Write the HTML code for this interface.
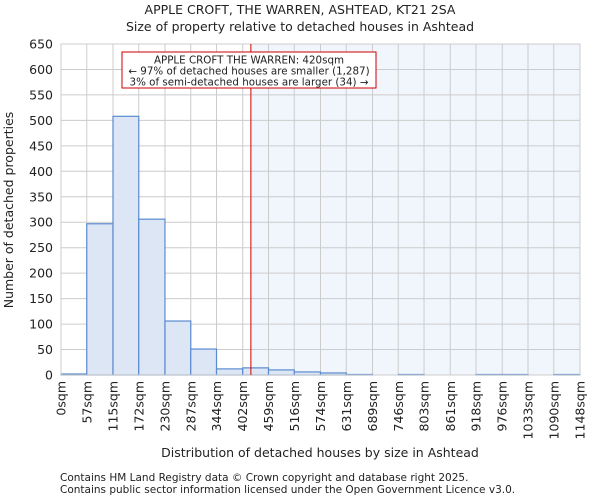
<!DOCTYPE html>
<html><head><meta charset="utf-8"><style>
body{margin:0;background:#fff;font-family:"DejaVu Sans","Liberation Sans",sans-serif;}
svg text{font-family:"DejaVu Sans","Liberation Sans",sans-serif;fill:#222;}
</style></head><body>
<svg id="c" width="600" height="500">
<text x="300" y="14" font-size="12.5" text-anchor="middle">APPLE CROFT, THE WARREN, ASHTEAD, KT21 2SA</text>
<text x="300" y="31" font-size="12.5" text-anchor="middle">Size of property relative to detached houses in Ashtead</text>
<text transform="translate(13,210) rotate(-90)" font-size="12.5" text-anchor="middle">Number of detached properties</text>
<text x="320" y="457" font-size="12.5" text-anchor="middle">Distribution of detached houses by size in Ashtead</text>
<text x="60" y="481" font-size="10.5">Contains HM Land Registry data © Crown copyright and database right 2025.</text>
<text x="60" y="493" font-size="10.5">Contains public sector information licensed under the Open Government Licence v3.0.</text>
<g id="plot"></g>
</svg>
<script>
const binEdges=[0,57,115,172,230,287,344,402,459,516,574,631,689,746,803,861,918,976,1033,1090,1148];
const tickLabels=["0sqm","57sqm","115sqm","172sqm","230sqm","287sqm","344sqm","402sqm","459sqm","516sqm","574sqm","631sqm","689sqm","746sqm","803sqm","861sqm","918sqm","976sqm","1033sqm","1090sqm","1148sqm"];
const counts=[2,297,508,306,106,51,12,14,10,6,4,1,0,1,0,0,1,1,0,1];
const yTicks=[0,50,100,150,200,250,300,350,400,450,500,550,600,650];
const subjectSize=420;
const X0=61,X1=580,Y0=375,Y1=44,XMAX=1148,YMAX=650;
const xs=v=>X0+v/XMAX*(X1-X0);
const ys=v=>Y0-v/YMAX*(Y0-Y1);
const g=document.getElementById('plot');
const NS='http://www.w3.org/2000/svg';
function mk(t,a){const e=document.createElementNS(NS,t);for(const k in a)e.setAttribute(k,a[k]);g.appendChild(e);return e;}
let r=mk('rect',{x:xs(subjectSize),y:Y1,width:X1-xs(subjectSize),height:Y0-Y1,fill:'#eef2fb',opacity:0.8});


yTicks.forEach(v=>{
 let l=mk('line',{x1:X0,x2:X1,y1:ys(v),y2:ys(v),stroke:'#ccc','stroke-width':1});
 
 
 let t=mk('text',{x:X0-8,y:ys(v)+4.5,'font-size':12.5,'text-anchor':'end'});t.textContent=v;
 
 
});
binEdges.forEach((v,i)=>{
 let l=mk('line',{x1:xs(v),x2:xs(v),y1:Y1,y2:Y0,stroke:'#ccc','stroke-width':1});
 
 
 let t=mk('text',{transform:`translate(${xs(v)+4.5},${Y0+6}) rotate(-90)`,'font-size':12.5,'text-anchor':'end'});t.textContent=tickLabels[i];
 
 
});
counts.forEach((c,i)=>{
 const x=xs(binEdges[i]),w=xs(binEdges[i+1])-x;
 let b=mk('rect',{x:x,y:ys(c),width:w,height:Y0-ys(c),fill:'#dce6f4',stroke:'#5b8bd0','stroke-width':1.2});
 
 
});
let ax=mk('rect',{x:X0,y:Y1,width:X1-X0,height:Y0-Y1,fill:'none',stroke:'#ccc'});


let m=mk('line',{x1:xs(subjectSize),x2:xs(subjectSize),y1:Y1,y2:Y0,stroke:'#cc0000','stroke-width':1});


let box=mk('rect',{x:122,y:52,width:254,height:36,fill:'#fff',stroke:'#cc0000','stroke-width':1});


["APPLE CROFT THE WARREN: 420sqm","← 97% of detached houses are smaller (1,287)","3% of semi-detached houses are larger (34) →"].forEach((s,i)=>{
 let t=mk('text',{x:249,y:63.5+i*11,'font-size':10.3,'text-anchor':'middle'});t.textContent=s;
 
 
});
</script>
</body></html>
